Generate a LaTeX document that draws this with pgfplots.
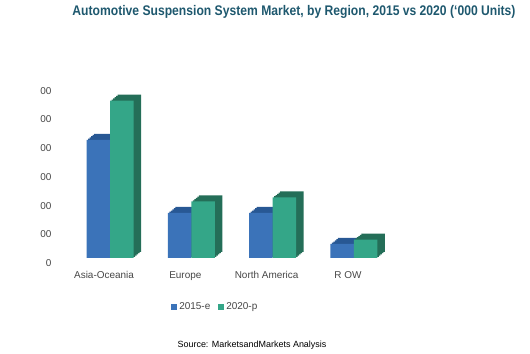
\documentclass[border=0pt]{standalone}
\usepackage{pgfplots}
\usepackage{pgfplotstable}
\pgfplotsset{compat=1.18}
\usepackage{fontspec}
\setmainfont{Liberation Sans}
\newfontfamily\titlefont[FakeStretch=0.87]{Liberation Sans}
\definecolor{blueF}{RGB}{59,115,185}
\definecolor{blueB}{RGB}{40,88,148}
\definecolor{greenF}{RGB}{52,166,136}
\definecolor{greenB}{RGB}{36,110,88}
\definecolor{titlec}{RGB}{30,88,110}
\definecolor{txt}{RGB}{70,70,70}
\pgfplotstableread{
x y15 y20
0 4.12 5.48
1 1.57 1.97
2 1.57 2.11
3 0.49 0.64
}\datatable
\begin{document}
\begin{tikzpicture}
\path[use as bounding box] (0,0) rectangle (530bp,354bp);
\node[font=\titlefont\bfseries\fontsize{14}{16}\selectfont, text=titlec] at (294bp,342bp)
  {Automotive Suspension System Market, by Region, 2015 vs 2020 (‘000 Units)};
\begin{axis}[
  at={(58bp,96bp)}, anchor=south west,
  scale only axis, width=352.8bp, height=172.2bp,
  xmin=-0.64, xmax=3.7, ymin=0, ymax=6,
  axis line style={draw=none}, major tick length=0pt,
  ytick={0,1,2,3,4,5,6},
  yticklabels={0,00,00,00,00,00,00},
  xtick={0,1,2,3},
  xticklabels={Asia-Oceania,Europe,North America,R OW},
  tick label style={font=\fontsize{10}{12}\selectfont, text=txt},
  yticklabel style={yshift=-5bp, xshift=-3bp},
  xticklabel style={xshift=-6bp, yshift=-10bp},
  ybar, bar width=23.5bp,
  legend style={draw=none, at={(0.446,-0.285)}, anchor=center,
    legend columns=2, font=\fontsize{10}{12}\selectfont, text=txt,
    /tikz/every even column/.append style={column sep=6bp}},
  legend image code/.code={\draw[#1,draw=none] (0bp,-3bp) rectangle (6bp,3bp);},
]
% depth layers (3D effect), 2015
\addplot[fill=blueB, draw=none, bar shift=-4.25bp, yshift=6bp, forget plot] table[x=x, y=y15] {\datatable};
\addplot[fill=blueB, draw=none, bar shift=-5.75bp, yshift=4.8bp, forget plot] table[x=x, y=y15] {\datatable};
\addplot[fill=blueB, draw=none, bar shift=-7.25bp, yshift=3.6bp, forget plot] table[x=x, y=y15] {\datatable};
\addplot[fill=blueB, draw=none, bar shift=-8.75bp, yshift=2.4bp, forget plot] table[x=x, y=y15] {\datatable};
\addplot[fill=blueB, draw=none, bar shift=-10.25bp, yshift=1.2bp, forget plot] table[x=x, y=y15] {\datatable};
% depth layers, 2020
\addplot[fill=greenB, draw=none, bar shift=19.25bp, yshift=6bp, forget plot] table[x=x, y=y20] {\datatable};
\addplot[fill=greenB, draw=none, bar shift=17.75bp, yshift=4.8bp, forget plot] table[x=x, y=y20] {\datatable};
\addplot[fill=greenB, draw=none, bar shift=16.25bp, yshift=3.6bp, forget plot] table[x=x, y=y20] {\datatable};
\addplot[fill=greenB, draw=none, bar shift=14.75bp, yshift=2.4bp, forget plot] table[x=x, y=y20] {\datatable};
\addplot[fill=greenB, draw=none, bar shift=13.25bp, yshift=1.2bp, forget plot] table[x=x, y=y20] {\datatable};
% front faces
\addplot[fill=blueF, draw=none, bar shift=-11.75bp] table[x=x, y=y15] {\datatable};
\addlegendentry{2015-e}
\addplot[fill=greenF, draw=none, bar shift=11.75bp] table[x=x, y=y20] {\datatable};
\addlegendentry{2020-p}
\end{axis}
\node[font=\fontsize{9}{11}\selectfont] at (252bp,9bp) {Source: MarketsandMarkets Analysis};
\end{tikzpicture}
\end{document}
